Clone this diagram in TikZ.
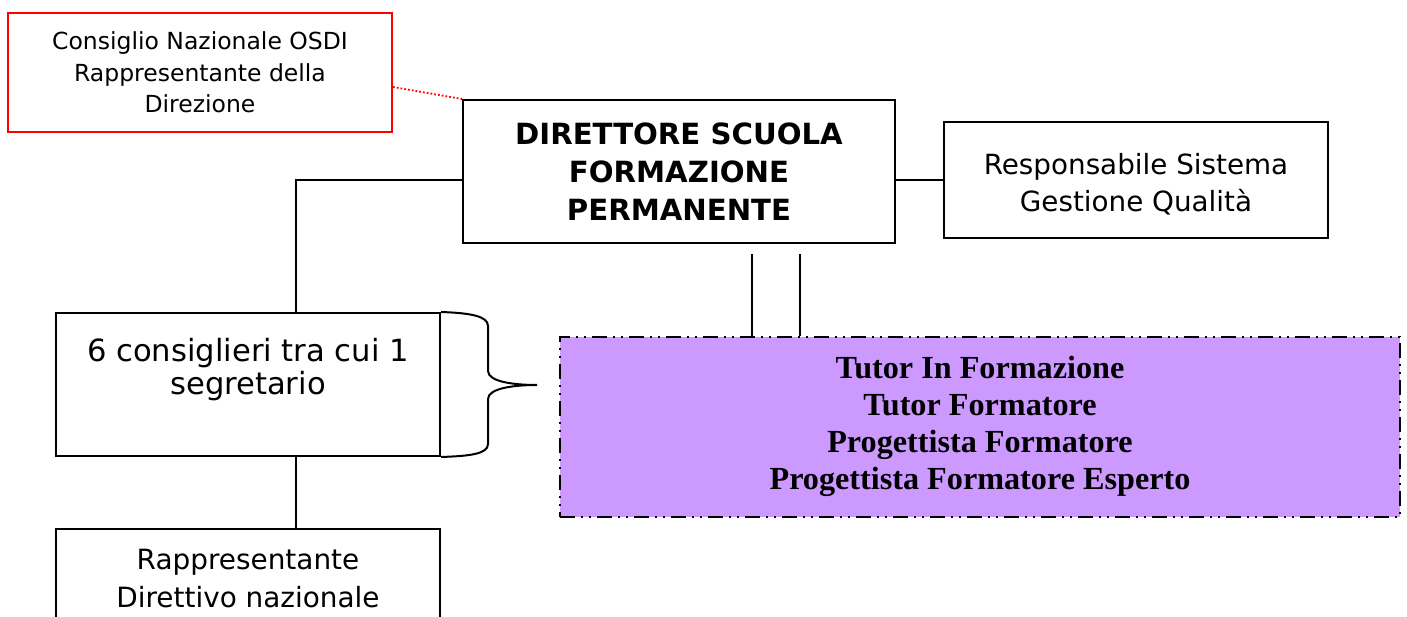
\documentclass[tikz,border=0pt]{standalone}
\usepackage{fontspec}
\usetikzlibrary{calc}
\setmainfont{DejaVu Sans}
\newfontfamily\serifb{Liberation Serif}
\definecolor{lilac}{HTML}{CC99FF}
\begin{document}
\begin{tikzpicture}[x=1pt,y=-1pt,
  box/.style={draw=black, line width=2pt, align=center, inner sep=0pt},
  link/.style={draw=black, line width=2pt},
  fA/.style={font=\fontsize{23.5}{31.5}\selectfont},
  fB/.style={font=\fontsize{29.2}{38}\selectfont\bfseries},
  fC/.style={font=\fontsize{27.8}{37}\selectfont},
  fD/.style={font=\fontsize{30.6}{33}\selectfont},
  fE/.style={font=\fontsize{27.9}{38}\selectfont},
  fF/.style={font=\serifb\fontsize{32.2}{37}\selectfont\bfseries}]
\useasboundingbox (0,0) rectangle (1407,617);
\node[box, draw=red, minimum width=384pt, minimum height=119pt, fA] (red) at (200,72.5)
  {Consiglio Nazionale OSDI\\Rappresentante della\\Direzione};
\node[box, minimum width=432pt, minimum height=143pt, fB] (dir) at (679,171.5)
  {DIRETTORE SCUOLA\\FORMAZIONE\\PERMANENTE};
\node[box, minimum width=384pt, minimum height=116pt, fC] (resp) at (1136,180)
  {\rule{0pt}{29pt}Responsabile Sistema\\Gestione Qualità};
\node[box, minimum width=384pt, minimum height=143pt, fD] (cons) at (248,384.5)
  {6 consiglieri tra cui 1\\segretario\\[3pt]};
\node[box, minimum width=384pt, minimum height=100pt, fE] (rapp) at (248,579)
  {Rappresentante\\Direttivo nazionale};
\node[box, fill=lilac, line width=2pt, dash pattern=on 15pt off 6pt on 2pt off 6pt on 2pt off 6pt,
  minimum width=840pt, minimum height=180pt, fF] (purp) at (980,427)
  {Tutor In Formazione\\Tutor Formatore\\Progettista Formatore\\Progettista Formatore Esperto\\[-28pt]};
% connectors
\coordinate (rd) at ($(red.north east)+(0,75)$);
\draw[red, line width=1.8pt, dotted] (rd) -- (dir.north west);
\draw[link] (dir.east |- resp.west) -- (resp.west);
\coordinate (cn) at ($(cons.north)+(48,0)$);
\coordinate (cs) at ($(cons.south)+(48,0)$);
\draw[link] (dir.west |- resp.west) -| (cn);
\draw[link] (cs) -- (cs |- rapp.north);
\coordinate (v1) at (752,254);
\coordinate (v2) at (800,254);
\draw[link] (v1) -- (v1 |- purp.north);
\draw[link] (v2) -- (v2 |- purp.north);
% brace
\draw[line width=2pt] (cons.north east) .. controls (470,313) and (488,316) .. (488,326)
  -- (488,371) .. controls (488,382) and (515,385) .. (537,385)
  .. controls (515,385) and (488,388) .. (488,399)
  -- (488,444) .. controls (488,454) and (470,456) .. (cons.south east);
\end{tikzpicture}
\end{document}
